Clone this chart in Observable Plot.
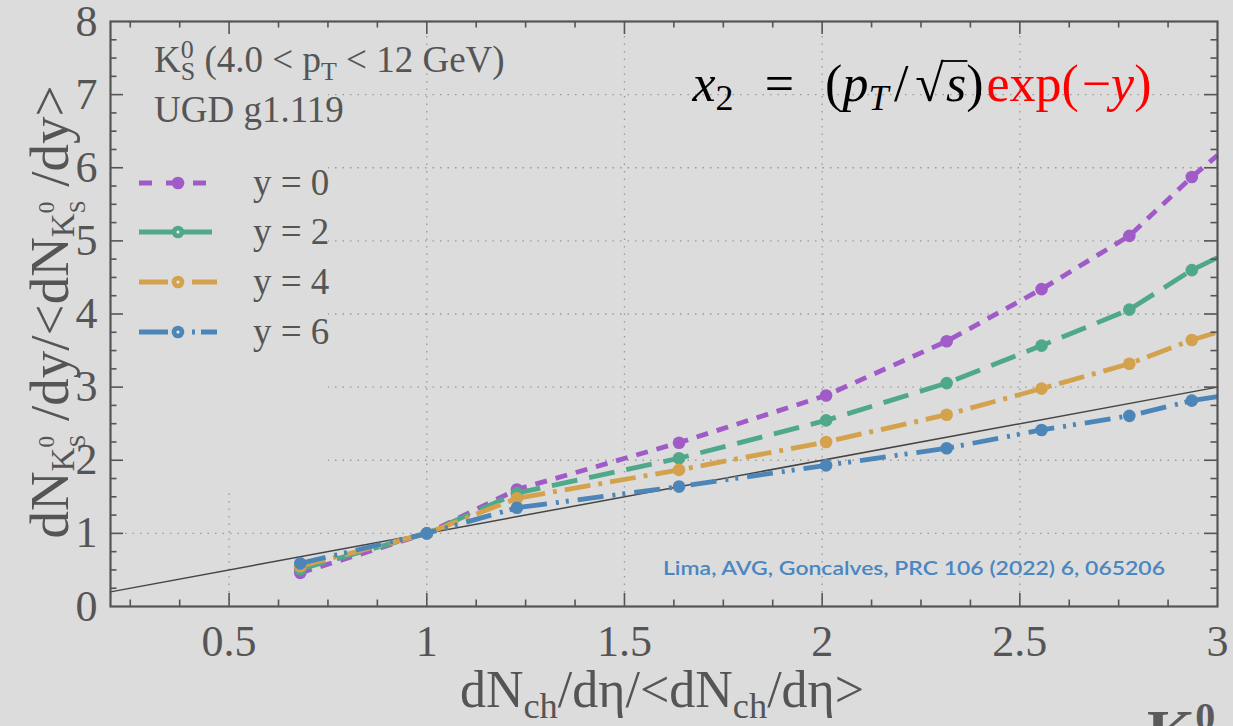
<!DOCTYPE html>
<html>
<head>
<meta charset="utf-8">
<script src="https://cdn.jsdelivr.net/npm/d3@7"></script>
<script src="https://cdn.jsdelivr.net/npm/@observablehq/plot@0.6"></script>
<style>
  html, body { margin: 0; padding: 0; background: #dcdcdc; }
  #wrap { position: relative; width: 1233px; height: 726px; overflow: hidden; }
  #wrap > svg { display: block; }
  #overlay { position: absolute; left: 0; top: 0; pointer-events: none; }
  #overlay text { white-space: pre; }
</style>
</head>
<body>
<div id="wrap"></div>
<script>
// Normalised charged multiplicity (x) at which the model was evaluated
const multiplicity = [0.68, 1.0, 1.228, 1.638, 2.01, 2.315, 2.555, 2.777, 2.935];
// Curves continue up to the right edge of the frame
const edgeMultiplicity = 3.0;

// Normalised K0S yield for each rapidity
const ratioY0 = [0.46, 1.0, 1.60, 2.24, 2.886, 3.627, 4.34, 5.068, 5.873];
const ratioY2 = [0.51, 1.0, 1.55, 2.027, 2.545, 3.055, 3.568, 4.06, 4.60];
const ratioY4 = [0.55, 1.0, 1.48, 1.868, 2.25, 2.623, 2.98, 3.32, 3.645];
const ratioY6 = [0.59, 1.0, 1.35, 1.64, 1.93, 2.164, 2.414, 2.607, 2.815];
const edgeRatios = [6.17, 4.77, 3.75, 2.87];

const seriesLabels = ["y = 0", "y = 2", "y = 4", "y = 6"];
const seriesColors = ["#a05bc8", "#50a88a", "#d4a24c", "#4c86b8"];

// Axis ticks and labels
const xTickValues = [0.5, 1, 1.5, 2, 2.5, 3];
const yTickValues = [0, 1, 2, 3, 4, 5, 6, 7, 8];
// Diagonal reference y = x across the x domain
const diagonal = [0.2, 3];

const W = 1233, H = 726;
const mL = 110, mR = 16, mT = 21, mB = 120;
const innerW = W - mL - mR, innerH = H - mT - mB;
const textGray = "#555555";

const dashes = ["12,9", "26,12", "26,8,4,8", "26,9,3,7,3,9"];
const seriesValues = [ratioY0, ratioY2, ratioY4, ratioY6];

const series = seriesLabels.map((name, k) => ({
  name,
  color: seriesColors[k],
  dash: dashes[k],
  points: multiplicity.map((x, i) => ({x, y: seriesValues[k][i]})),
  path: [...multiplicity.map((x, i) => ({x, y: seriesValues[k][i]})), {x: edgeMultiplicity, y: edgeRatios[k]}]
}));

// Minor/major tick positions for the frame
const xMinor = d3.range(0.25, 3.0001, 0.125).filter(v => Math.abs(v * 2 - Math.round(v * 2)) > 1e-6);
const xMajor = xTickValues.filter(v => v < 3);
const yMinor = d3.range(0.25, 8, 0.25).filter(v => Math.abs(v - Math.round(v)) > 1e-6);
const yMajor = yTickValues.filter(v => v > 0 && v < 8);

const tickStyle = {stroke: "#555", strokeWidth: 1.6};
const majorLen = 13, minorLen = 6.5;

const marks = [
  // dotted grid
  Plot.ruleY(yMajor, {stroke: "#9a9a9a", strokeWidth: 1.3, strokeDasharray: "1.5,6"}),
  Plot.ruleX(xMajor, {stroke: "#9a9a9a", strokeWidth: 1.3, strokeDasharray: "1.5,6"}),
  // reference line y = x
  Plot.line(diagonal, {x: d => d, y: d => d, stroke: "#454545", strokeWidth: 1.5})
];

for (const s of series) {
  marks.push(
    Plot.line(s.path, {x: "x", y: "y", stroke: s.color, strokeWidth: 4.8,
      strokeDasharray: s.dash, strokeLinecap: "butt", strokeLinejoin: "miter"}),
    Plot.dot(s.points, {x: "x", y: "y", r: 6.3, fill: s.color, stroke: null})
  );
}

marks.push(
  // inward ticks on all four sides (y1 is the top end, y2 the bottom end)
  Plot.ruleX(xMinor, {x: d => d, y1: 8, y2: 0, insetTop: innerH - minorLen, ...tickStyle}),
  Plot.ruleX(xMajor, {x: d => d, y1: 8, y2: 0, insetTop: innerH - majorLen, ...tickStyle}),
  Plot.ruleX(xMinor, {x: d => d, y1: 8, y2: 0, insetBottom: innerH - minorLen, ...tickStyle}),
  Plot.ruleX(xMajor, {x: d => d, y1: 8, y2: 0, insetBottom: innerH - majorLen, ...tickStyle}),
  Plot.ruleY(yMinor, {y: d => d, x1: 0.2, x2: 3, insetRight: innerW - minorLen, ...tickStyle}),
  Plot.ruleY(yMajor, {y: d => d, x1: 0.2, x2: 3, insetRight: innerW - majorLen, ...tickStyle}),
  Plot.ruleY(yMinor, {y: d => d, x1: 0.2, x2: 3, insetLeft: innerW - minorLen, ...tickStyle}),
  Plot.ruleY(yMajor, {y: d => d, x1: 0.2, x2: 3, insetLeft: innerW - majorLen, ...tickStyle}),
  Plot.frame({stroke: "#555", strokeWidth: 2.2}),
  Plot.axisX(xTickValues, {tickSize: 0, tickPadding: 18, fontSize: 44, label: null, tickFormat: d => String(d)}),
  Plot.axisY(yTickValues, {tickSize: 0, tickPadding: 13, fontSize: 44, label: null, tickFormat: d => String(d)})
);

const chart = Plot.plot({
  width: W, height: H,
  marginLeft: mL, marginRight: mR, marginTop: mT, marginBottom: mB,
  x: {domain: [0.2, 3]},
  y: {domain: [0, 8]},
  style: {background: "transparent", fontFamily: "'Liberation Serif', 'Times New Roman', serif", color: textGray},
  marks
});
const wrap = document.getElementById("wrap");
wrap.appendChild(chart);

// opaque legend panel sits above the grid but below the curves and ticks
const groups = chart.querySelectorAll(":scope > g");
const panel = document.createElementNS("http://www.w3.org/2000/svg", "rect");
panel.setAttribute("x", 111); panel.setAttribute("y", 22);
panel.setAttribute("width", 217); panel.setAttribute("height", 466);
panel.setAttribute("fill", "#dcdcdc");
chart.insertBefore(panel, groups[2]);

// text, legend and annotations
const ov = d3.select(wrap).append("svg").attr("id", "overlay")
  .attr("width", W).attr("height", H)
  .style("font-family", "'Liberation Serif', 'Times New Roman', serif");

function richText(parent, x, y, parts, attrs = {}) {
  const t = parent.append("text").attr("x", x).attr("y", y);
  for (const [k, v] of Object.entries(attrs)) t.attr(k, v);
  let shift = 0;
  const spans = [];
  for (const p of parts) {
    const s = t.append("tspan").text(p.t);
    const target = p.shift || 0;
    if (target !== shift) { s.attr("dy", target - shift); shift = target; }
    if (p.dx) s.attr("dx", p.dx);
    if (p.size) s.attr("font-size", p.size);
    if (p.italic) s.attr("font-style", "italic");
    if (p.fill) s.attr("fill", p.fill);
    spans.push(s);
  }
  t.spans = spans;
  return t;
}

// K with stacked 0 / S indices, used as a subscript
const kSub = (main) => [
  {t: "K", size: main * 0.6, shift: main * 0.1},
  {t: "0", size: main * 0.42, shift: -main * 0.26},
  {t: "S", size: main * 0.42, shift: main * 0.3, dx: -main * 0.21}
];

// Y axis title
const yFont = 55;
const yTitle = ov.append("g").attr("transform", `translate(68, 312) rotate(-90)`);
richText(yTitle, 0, 0, [
  {t: "dN"}, ...kSub(yFont), {t: " /dy/<dN", shift: 0}, ...kSub(yFont), {t: " /dy>", shift: 0}
], {"font-size": yFont, fill: textGray, "text-anchor": "middle"});

// X axis title
const xFont = 52;
richText(ov, 662, 707, [
  {t: "dN"}, {t: "ch", size: xFont * 0.7, shift: xFont * 0.22}, {t: "/dη/<dN", shift: 0},
  {t: "ch", size: xFont * 0.7, shift: xFont * 0.22}, {t: "/dη>", shift: 0}
], {"font-size": xFont, fill: textGray, "text-anchor": "middle"});

// Kinematic selection and model
const aFont = 37;
richText(ov, 154, 72, [
  {t: "K"}, {t: "0", size: 26, shift: -14}, {t: "S", size: 26, shift: 8, dx: -13},
  {t: " (4.0 < p", shift: 0}, {t: "T", size: 26, shift: 8}, {t: " < 12 GeV)", shift: 0}
], {"font-size": aFont, fill: textGray});
richText(ov, 154, 122, [{t: "UGD g1.119"}], {"font-size": aFont, fill: textGray});

// Legend
const legendRows = [183, 232, 282, 332];
const legendDash = ["13,14", null, "29,24,30", "29,24,3,6,20"];
const legendEnd = [212, 212, 217, 217];
seriesLabels.forEach((name, k) => {
  const yRow = legendRows[k];
  const l = ov.append("line").attr("x1", 139).attr("x2", legendEnd[k]).attr("y1", yRow).attr("y2", yRow)
    .attr("stroke", seriesColors[k]).attr("stroke-width", 4.8);
  if (legendDash[k]) l.attr("stroke-dasharray", legendDash[k]);
  ov.append("circle").attr("cx", 178).attr("cy", yRow).attr("r", 6.3).attr("fill", seriesColors[k]);
  if (k > 0) ov.append("circle").attr("cx", 178).attr("cy", yRow).attr("r", 1.6).attr("fill", "#e8e8e8");
  richText(ov, 253, yRow + 12, [{t: name}], {"font-size": 37, fill: textGray});
});

// Momentum fraction formula
const red = "#ff0000";
const formula = richText(ov, 922, 101, [
  {t: "x", italic: true}, {t: "2", size: 36, shift: 9}, {t: " ", shift: 0}, {t: "="}, {t: " ("},
  {t: "p", italic: true}, {t: "T", italic: true, size: 36, shift: 9}, {t: "/", shift: 0},
  {t: "√"}, {t: "s", italic: true}, {t: ")"},
  {t: "exp(", fill: red}, {t: "−", fill: red}, {t: "y", italic: true, fill: red}, {t: ")", fill: red}
], {"font-size": 52, fill: "#000", "text-anchor": "middle"});
{
  const node = formula.node();
  const extra = Math.max(0, 459 - node.getComputedTextLength());
  // widen the operator spacing the way TeX does
  const share = [[3, 0.32], [4, 0.32], [7, 0.1], [8, 0.12], [9, 0.04], [11, 0.05], [12, 0.05]];
  for (const [i, f] of share) formula.spans[i].attr("dx", extra * f);
  const rad = node.getExtentOfChar(9);
  const sq = node.getExtentOfChar(10);
  ov.append("line").attr("x1", rad.x + rad.width - 3).attr("x2", sq.x + sq.width + 1)
    .attr("y1", rad.y + 6).attr("y2", rad.y + 6).attr("stroke", "#000").attr("stroke-width", 1.8);
}

// Reference
ov.append("text").attr("x", 914).attr("y", 575).attr("text-anchor", "middle")
  .attr("font-family", "Lato, 'Open Sans', sans-serif").attr("font-weight", 600)
  .attr("font-size", 20).attr("fill", "#4a86c0")
  .attr("textLength", 502).attr("lengthAdjust", "spacingAndGlyphs")
  .text("Lima, AVG, Goncalves, PRC 106 (2022) 6, 065206");

// Panel label peeking in from below
richText(ov, 1147, 752, [{t: "K", size: 62}, {t: "0", size: 40, shift: -22}],
  {fill: "#5a5a5a", "font-weight": 700});
</script>
</body>
</html>
